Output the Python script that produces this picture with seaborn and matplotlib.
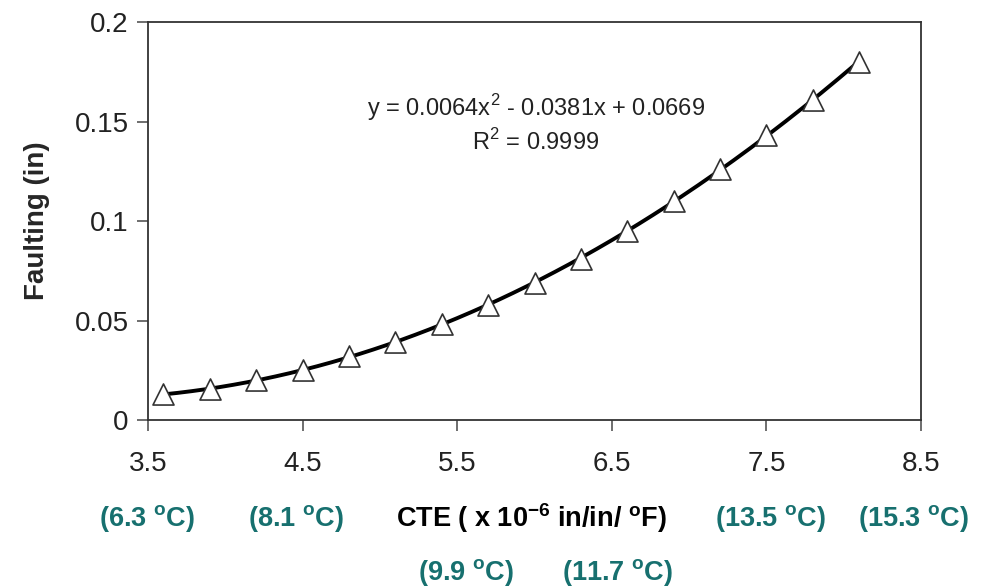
import numpy as np
import pandas as pd
import matplotlib
matplotlib.use("Agg")
import matplotlib.pyplot as plt
import seaborn as sns

# data
cte = [3.6, 3.9, 4.2, 4.5, 4.8, 5.1, 5.4, 5.7, 6.0, 6.3, 6.6, 6.9, 7.2, 7.5, 7.8, 8.1]
faulting = [0.013, 0.0155, 0.020, 0.025, 0.032, 0.039, 0.048, 0.058, 0.069, 0.081,
            0.095, 0.110, 0.126, 0.143, 0.161, 0.180]
x_ticks = [3.5, 4.5, 5.5, 6.5, 7.5, 8.5]
y_ticks = [0, 0.05, 0.1, 0.15, 0.2]
celsius_labels = ["(6.3 $^{\\mathbf{o}}$C)", "(8.1 $^{\\mathbf{o}}$C)", "(9.9 $^{\\mathbf{o}}$C)",
                  "(11.7 $^{\\mathbf{o}}$C)", "(13.5 $^{\\mathbf{o}}$C)", "(15.3 $^{\\mathbf{o}}$C)"]

TEAL = "#17706f"

sns.set_style("ticks")
plt.rcParams["font.family"] = ["Liberation Sans", "DejaVu Sans"]
plt.rcParams["mathtext.fontset"] = "custom"
plt.rcParams["mathtext.rm"] = "Liberation Sans"
plt.rcParams["mathtext.bf"] = "Liberation Sans:bold"

df = pd.DataFrame({"cte": cte, "faulting": faulting})

# polynomial trendline (order 2) through the data
coef = np.polyfit(df["cte"], df["faulting"], 2)
xs = np.linspace(min(cte), max(cte), 200)
trend = pd.DataFrame({"cte": xs, "faulting": np.polyval(coef, xs)})

fig = plt.figure(figsize=(9.82, 5.87), dpi=100)
ax = fig.add_axes([0.1507, 0.2845, 0.938 - 0.1507, 0.9625 - 0.2845])

sns.lineplot(data=trend, x="cte", y="faulting", ax=ax, color="black", linewidth=2.8)
sns.scatterplot(data=df, x="cte", y="faulting", ax=ax, marker="^", s=230,
                facecolor="white", edgecolor="#333333", linewidth=1.2, zorder=3)

ax.set_xlim(3.5, 8.5)
ax.set_ylim(0, 0.2)
ax.set_xticks(x_ticks)
ax.set_yticks(y_ticks)
ax.set_xticklabels(["%g" % v for v in x_ticks])
ax.set_yticklabels(["%g" % v for v in y_ticks])
ax.tick_params(axis="both", labelsize=20, color="#555555", length=8, width=1.2,
               labelcolor="#222222")
ax.tick_params(axis="x", pad=14)
ax.tick_params(axis="y", pad=6)
for s in ax.spines.values():
    s.set_color("#333333")
    s.set_linewidth(1.3)

ax.set_xlabel("")
ax.set_ylabel("Faulting (in)", fontsize=20, fontweight="bold")
ax.yaxis.set_label_coords(-0.127, 0.5)

ax.text(0.502, 0.784, "y = 0.0064x$^2$ - 0.0381x + 0.0669", transform=ax.transAxes,
        ha="center", va="center", fontsize=17, color="#222222")
ax.text(0.502, 0.698, "R$^2$ = 0.9999", transform=ax.transAxes,
        ha="center", va="center", fontsize=17, color="#222222")

# x axis title and celsius equivalents below the axis
fig.text(531 / 982, 1 - 518 / 587, "CTE ( x 10$^{\\mathbf{-6}}$ in/in/ $^{\\mathbf{o}}$F)",
         ha="center", va="center", fontsize=19.5, fontweight="bold", color="black")
label_pos = [(147, 518), (296, 518), (466, 572), (618, 572), (771, 518), (914, 518)]
for lab, (px, py) in zip(celsius_labels, label_pos):
    fig.text(px / 982, 1 - py / 587, lab, ha="center", va="center", fontsize=19.5,
             fontweight="bold", color=TEAL)

fig.savefig("out.png", dpi=100)
plt.close(fig)
